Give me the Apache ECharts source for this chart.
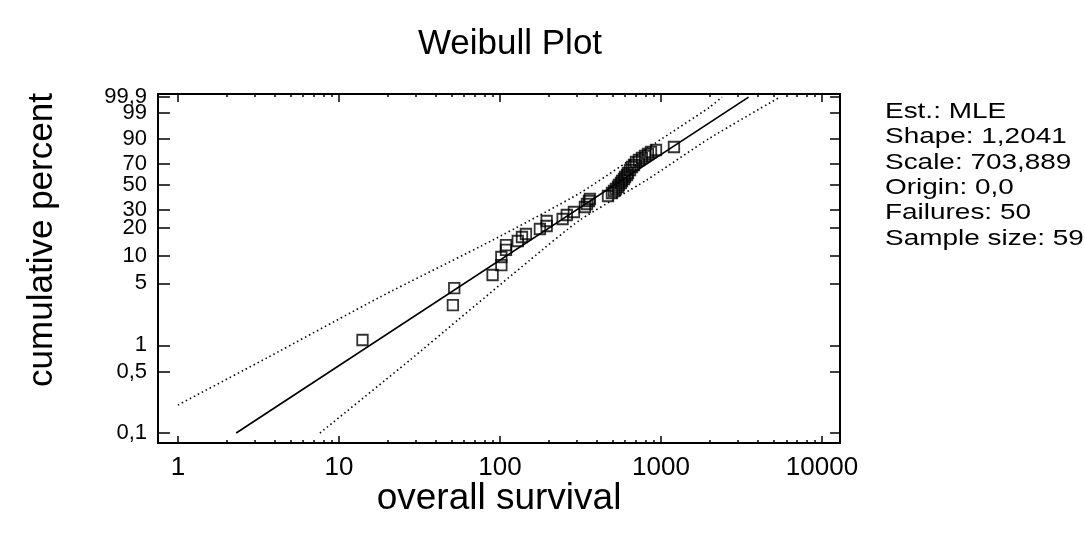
<!DOCTYPE html>
<html>
<head>
<meta charset="utf-8">
<title>Weibull Plot</title>
<script src="https://cdn.jsdelivr.net/npm/echarts@6/dist/echarts.min.js"></script>
<style>
  html, body { margin: 0; padding: 0; background: #fff; }
  #chart { width: 1085px; height: 534px; }
</style>
</head>
<body>
<div id="chart"></div>
<script>
// data: survival time and plotting position (cumulative %)
var survival = [14, 51, 52, 90, 102, 102, 109, 109, 129, 137,
                145, 177, 195, 195, 245, 260, 288, 337, 347, 357,
                362, 469, 496, 511, 525, 541, 548, 564, 573, 589,
                598, 615, 624, 642, 661, 680, 699, 730, 762, 796,
                830, 867, 931, 1204];
var percent = [1.15, 2.86, 4.44, 6.2, 7.98, 9.77, 11.63, 13.13, 14.5, 15.97,
               17.15, 19.31, 20.72, 23.28, 24.38, 26.68, 28.53, 31.81, 33.93, 36.14,
               37.68, 40.05, 42.52, 44.2, 45.94, 47.72, 49.5, 51.35, 53.21, 55.07,
               56.99, 58.88, 60.83, 63.73, 66.63, 68.56, 71.42, 73.27, 75.12, 76.9,
               78.67, 80.39, 82.02, 84.39];

// fitted line end points
var fitX = [2.3, 3500];
var fitP = [0.1, 99.9];

// confidence limits (dotted)
var upperX = [1, 3.57, 18, 90.4, 314, 815, 2015, 2393];
var upperP = [0.209, 0.72, 3.52, 14.85, 42.52, 83.06, 99.51, 99.9];
var lowerX = [7.62, 27.6, 54.8, 153.6, 314, 815, 2015, 5483];
var lowerP = [0.1, 0.68, 1.94, 9.06, 23.81, 54.14, 90.5, 99.9];

// tick labels (y labels split in two sets so that neighbours that overlap both stay visible)
var xTicks = [1, 10, 100, 1000, 10000];
var xTickLabels = ['1', '10', '100', '1000', '10000'];
var yTicksA = [0.1, 1, 10, 30, 70, 99];
var yTickLabelsA = ['0,1', '1', '10', '30', '70', '99'];
var yTicksB = [0.5, 5, 20, 50, 90, 99.9];
var yTickLabelsB = ['0,5', '5', '20', '50', '90', '99,9'];

var infoLines = ['Est.: MLE', 'Shape: 1,2041', 'Scale: 703,889', 'Origin: 0,0',
                 'Failures: 50', 'Sample size: 59'];

var FONT = '"Liberation Sans", Arial, Helvetica, sans-serif';

function lg(v) { return Math.log(v) / Math.LN10; }
function wb(pct) { var p = pct / 100; return Math.log(-Math.log(1 - p)); }

function pairs(xs, ps) {
    return xs.map(function (x, i) { return [lg(x), wb(ps[i])]; });
}

var xMajor = xTicks.map(lg);
var xMinor = [];
for (var d = 1; d <= 1000; d *= 10) {
    for (var k = 2; k <= 9; k++) xMinor.push(lg(k * d));
}
var yMajorA = yTicksA.map(wb);
var yMajorB = yTicksB.map(wb);
var yMajor = yMajorA.concat(yMajorB);

function nearestLabel(vals, labels, v) {
    for (var i = 0; i < vals.length; i++) {
        if (Math.abs(vals[i] - v) < 1e-6) return labels[i];
    }
    return '';
}

var xMin = -0.124, xMax = 4.112;
var yMin = -7.17, yMax = 2.014;

function xAx(pos, ticks, len, showLine, showLabel) {
    return {
        type: 'value', position: pos, min: xMin, max: xMax,
        splitLine: { show: false },
        axisLine: { show: showLine, onZero: false, lineStyle: { color: '#000', width: 2 } },
        axisTick: { show: true, inside: true, length: len, customValues: ticks,
                    lineStyle: { color: '#000', width: 1.5 } },
        axisLabel: {
            show: showLabel, customValues: ticks, margin: 12, hideOverlap: false,
            color: '#000', fontSize: 26, fontFamily: FONT,
            formatter: function (v) { return nearestLabel(xMajor, xTickLabels, v); }
        }
    };
}

function yAx(pos, ticks, labels, len, showLine, showLabel) {
    return {
        type: 'value', position: pos, min: yMin, max: yMax,
        splitLine: { show: false },
        axisLine: { show: showLine, onZero: false, lineStyle: { color: '#000', width: 2 } },
        axisTick: { show: len > 0, inside: true, length: len, customValues: ticks,
                    lineStyle: { color: '#000', width: 1.5 } },
        axisLabel: {
            show: showLabel, customValues: ticks, margin: 11, hideOverlap: false,
            showMinLabel: true, showMaxLabel: true,
            color: '#000', fontSize: 22, fontFamily: FONT,
            formatter: function (v) { return nearestLabel(ticks, labels, v); }
        }
    };
}

var chart = echarts.init(document.getElementById('chart'), null, { renderer: 'canvas' });

var graphics = infoLines.map(function (t, i) {
    return {
        type: 'text', x: 885, y: 112 + i * 25.3, scaleX: 1.27,
        style: { text: t, fill: '#000', font: '22px ' + FONT, verticalAlign: 'middle' }
    };
});
graphics.push({
    type: 'text', x: 42, y: 240, rotation: Math.PI / 2,
    style: { text: 'cumulative percent', fill: '#000', font: '35px ' + FONT,
             align: 'center', verticalAlign: 'middle' }
});

var option = {
    backgroundColor: '#fff',
    animation: false,
    title: {
        text: 'Weibull Plot', left: 505, top: 22, textAlign: 'center',
        textStyle: { color: '#000', fontSize: 35, fontWeight: 'normal', fontFamily: FONT }
    },
    grid: { left: 158, right: 245, top: 94, bottom: 91, containLabel: false, outerBoundsMode: 'none' },
    xAxis: [
        Object.assign(xAx('bottom', xMajor, 7, true, true), {
            name: 'overall survival', nameLocation: 'middle', nameGap: 37,
            nameMoveOverlap: false,
            nameTextStyle: { color: '#000', fontSize: 37, fontFamily: FONT }
        }),
        xAx('bottom', xMinor, 3, false, false),
        xAx('top', xMajor, 8, true, false),
        xAx('top', xMinor, 3, false, false)
    ],
    yAxis: [
        yAx('left', yMajorA, yTickLabelsA, 12, true, true),
        yAx('left', yMajorB, yTickLabelsB, 12, false, true),
        yAx('right', yMajor, [], 10, true, false)
    ],
    graphic: graphics,
    series: [
        {
            type: 'line', name: 'fit', data: pairs(fitX, fitP),
            symbol: 'none', clip: true,
            lineStyle: { color: '#000', width: 1.7 }
        },
        {
            type: 'line', name: 'upper', data: pairs(upperX, upperP),
            symbol: 'none', clip: true, smooth: 0.2,
            lineStyle: { color: '#000', width: 1.6, type: [1.5, 3] }
        },
        {
            type: 'line', name: 'lower', data: pairs(lowerX, lowerP),
            symbol: 'none', clip: true, smooth: 0.2,
            lineStyle: { color: '#000', width: 1.6, type: [1.5, 3] }
        },
        {
            type: 'scatter', name: 'data', data: pairs(survival, percent),
            symbol: 'rect', symbolSize: 10.5,
            itemStyle: { color: 'rgba(0,0,0,0)', borderColor: '#000', borderWidth: 1.8 }
        }
    ]
};

chart.setOption(option);
</script>
</body>
</html>
